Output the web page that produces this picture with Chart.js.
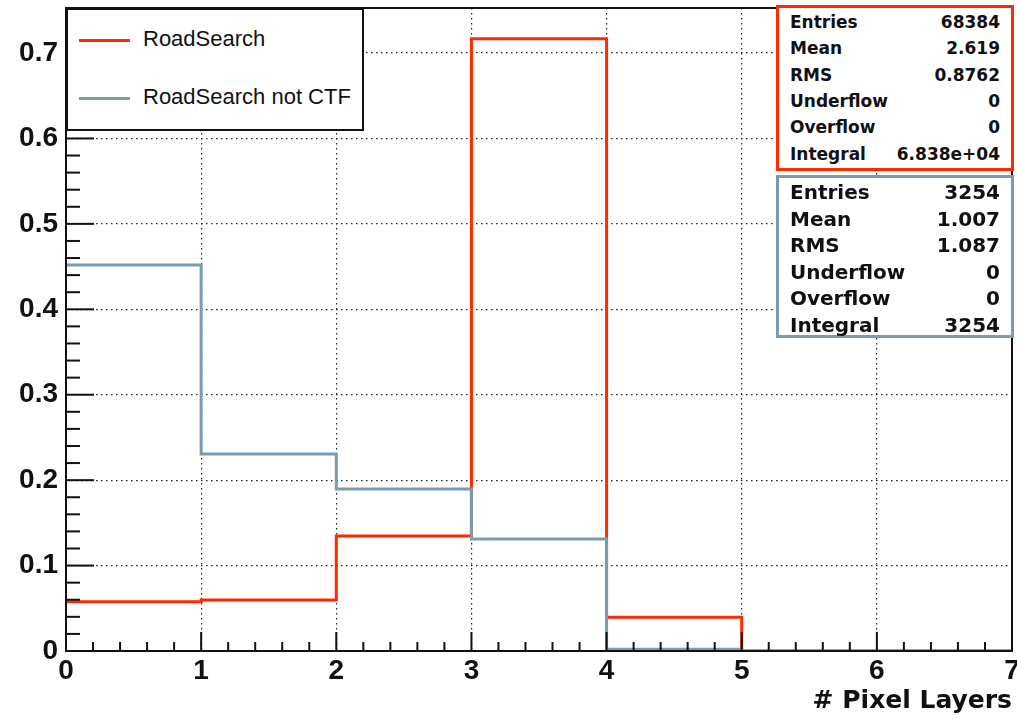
<!DOCTYPE html>
<html>
<head>
<meta charset="utf-8">
<script src="https://cdn.jsdelivr.net/npm/chart.js@4.4.0/dist/chart.umd.min.js"></script>
<style>
  body { margin: 0; background: #fff; font-family: "Liberation Sans", Arial, sans-serif; }
  #wrap { position: relative; width: 1017px; height: 720px; }
  canvas { position: absolute; left: 0; top: 0; }
  .legend { position: absolute; left: 66px; top: 8px; width: 294px; height: 119px; border: 2px solid #111; background: #fff; }
  .legend .row { position: absolute; left: 11px; font-size: 22px; color: #111; }
  .legend .swatch { display: inline-block; width: 51px; height: 3px; vertical-align: middle; margin-right: 13px; }
  .stats { position: absolute; background: #fff; font-weight: bold; color: #111; font-family: "DejaVu Sans", sans-serif; }
  .stats .row { position: absolute; left: 11px; right: 11px; }
  .stats .row span:last-child { float: right; }
</style>
</head>
<body>
<div id="wrap">
  <canvas id="histChart" width="1017" height="720"></canvas>
  <div class="legend">
    <div class="row" style="top:16px"><span class="swatch" id="swRed"></span>RoadSearch</div>
    <div class="row" style="top:74px"><span class="swatch" id="swBlue"></span>RoadSearch not CTF</div>
  </div>
  <div class="stats" id="statsRed" style="left:776px; top:5px; width:232px; height:160px; border:3px solid; font-size:17px;"></div>
  <div class="stats" id="statsBlue" style="left:776px; top:175px; width:232px; height:157px; border:3px solid; font-size:20px;"></div>
</div>
<script>
// bin edges 0..7, one value per bin
const binEdges = [0, 1, 2, 3, 4, 5, 6, 7];
const roadSearch = [0.0577, 0.0597, 0.1347, 0.7166, 0.0395, 0, 0];
const roadSearchNotCTF = [0.452, 0.2307, 0.1897, 0.131, 0.002, 0, 0];

const xTicks = [0, 1, 2, 3, 4, 5, 6, 7];
const yTicks = [0, 0.1, 0.2, 0.3, 0.4, 0.5, 0.6, 0.7];

const statLabels = ['Entries', 'Mean', 'RMS', 'Underflow', 'Overflow', 'Integral'];
const statsRed = ['68384', '2.619', '0.8762', '0', '0', '6.838e+04'];
const statsBlue = ['3254', '1.007', '1.087', '0', '0', '3254'];

const RED = '#ff2a00';
const BLUE = '#7b9bb0';

// stepped histogram outline: repeat last bin value at the last edge
function steps(vals) {
  const pts = vals.map((v, i) => ({ x: binEdges[i], y: v }));
  pts.push({ x: binEdges[binEdges.length - 1], y: vals[vals.length - 1] });
  return pts;
}

function fillStats(id, values, color, rowStep, firstTop) {
  const box = document.getElementById(id);
  box.style.borderColor = color;
  statLabels.forEach((lab, i) => {
    const row = document.createElement('div');
    row.className = 'row';
    row.style.top = (firstTop + i * rowStep) + 'px';
    row.innerHTML = '<span>' + lab + '</span><span>' + values[i] + '</span>';
    box.appendChild(row);
  });
}
fillStats('statsRed', statsRed, RED, 26.3, 4);
fillStats('statsBlue', statsBlue, BLUE, 26.6, 2);
document.getElementById('swRed').style.background = RED;
document.getElementById('swBlue').style.background = BLUE;

// ROOT style frame with inward ticks
const frameTicks = {
  id: 'frameTicks',
  afterDatasetsDraw(chart) {
    const { ctx, chartArea: a, scales: { x, y } } = chart;
    ctx.save();
    ctx.strokeStyle = '#111';
    ctx.lineWidth = 2;
    for (let v = 0; v <= 7.001; v += 0.2) {
      const px = x.getPixelForValue(v);
      const major = Math.abs(v - Math.round(v)) < 1e-6;
      const len = major ? 19 : 9;
      ctx.beginPath();
      ctx.moveTo(px, a.bottom);
      ctx.lineTo(px, a.bottom - len);
      ctx.stroke();
    }
    for (let v = 0; v <= 0.75; v += 0.02) {
      const py = y.getPixelForValue(v);
      const major = Math.abs(v * 10 - Math.round(v * 10)) < 1e-6;
      const len = major ? 28 : 14;
      ctx.beginPath();
      ctx.moveTo(a.left, py);
      ctx.lineTo(a.left + len, py);
      ctx.stroke();
    }
    ctx.strokeRect(a.left, a.top, a.right - a.left, a.bottom - a.top);
    ctx.restore();
  }
};

new Chart(document.getElementById('histChart'), {
  type: 'line',
  data: {
    datasets: [
      {
        label: 'RoadSearch',
        data: steps(roadSearch),
        borderColor: RED,
        borderWidth: 3,
        stepped: 'before',
        pointRadius: 0,
        fill: false,
        order: 2
      },
      {
        label: 'RoadSearch not CTF',
        data: steps(roadSearchNotCTF),
        borderColor: BLUE,
        borderWidth: 3,
        stepped: 'before',
        pointRadius: 0,
        fill: false,
        order: 1
      }
    ]
  },
  options: {
    responsive: false,
    animation: false,
    layout: { padding: { top: 8, right: 5, left: 0, bottom: 0 } },
    plugins: { legend: { display: false }, tooltip: { enabled: false } },
    scales: {
      x: {
        type: 'linear',
        min: 0,
        max: 7,
        afterBuildTicks(scale) { scale.ticks = xTicks.map(v => ({ value: v })); },
        afterFit(scale) { scale.height = 69; scale.paddingLeft = 0; scale.paddingRight = 0; },
        grid: { color: '#222', lineWidth: 1.2, drawTicks: false },
        border: { display: false, dash: [1.5, 3.5] },
        ticks: { color: '#111', padding: 3, font: { family: 'Liberation Sans', size: 28, weight: 'bold' } },
        title: {
          display: true,
          text: '# Pixel Layers',
          align: 'end',
          color: '#111',
          padding: { top: 0, bottom: 4 },
          font: { family: 'DejaVu Sans', size: 25, weight: 'bold' }
        }
      },
      y: {
        min: 0,
        max: 0.7527,
        afterBuildTicks(scale) { scale.ticks = yTicks.map(v => ({ value: v })); },
        afterFit(scale) { scale.width = 66; scale.paddingTop = 0; scale.paddingBottom = 0; },
        grid: { color: '#222', lineWidth: 1.2, drawTicks: false },
        border: { display: false, dash: [1.5, 3.5] },
        ticks: {
          color: '#111',
          padding: 8,
          font: { family: 'Liberation Sans', size: 28, weight: 'bold' },
          callback: v => (v === 0 ? '0' : v.toFixed(1))
        }
      }
    }
  },
  plugins: [frameTicks]
});
</script>
</body>
</html>
